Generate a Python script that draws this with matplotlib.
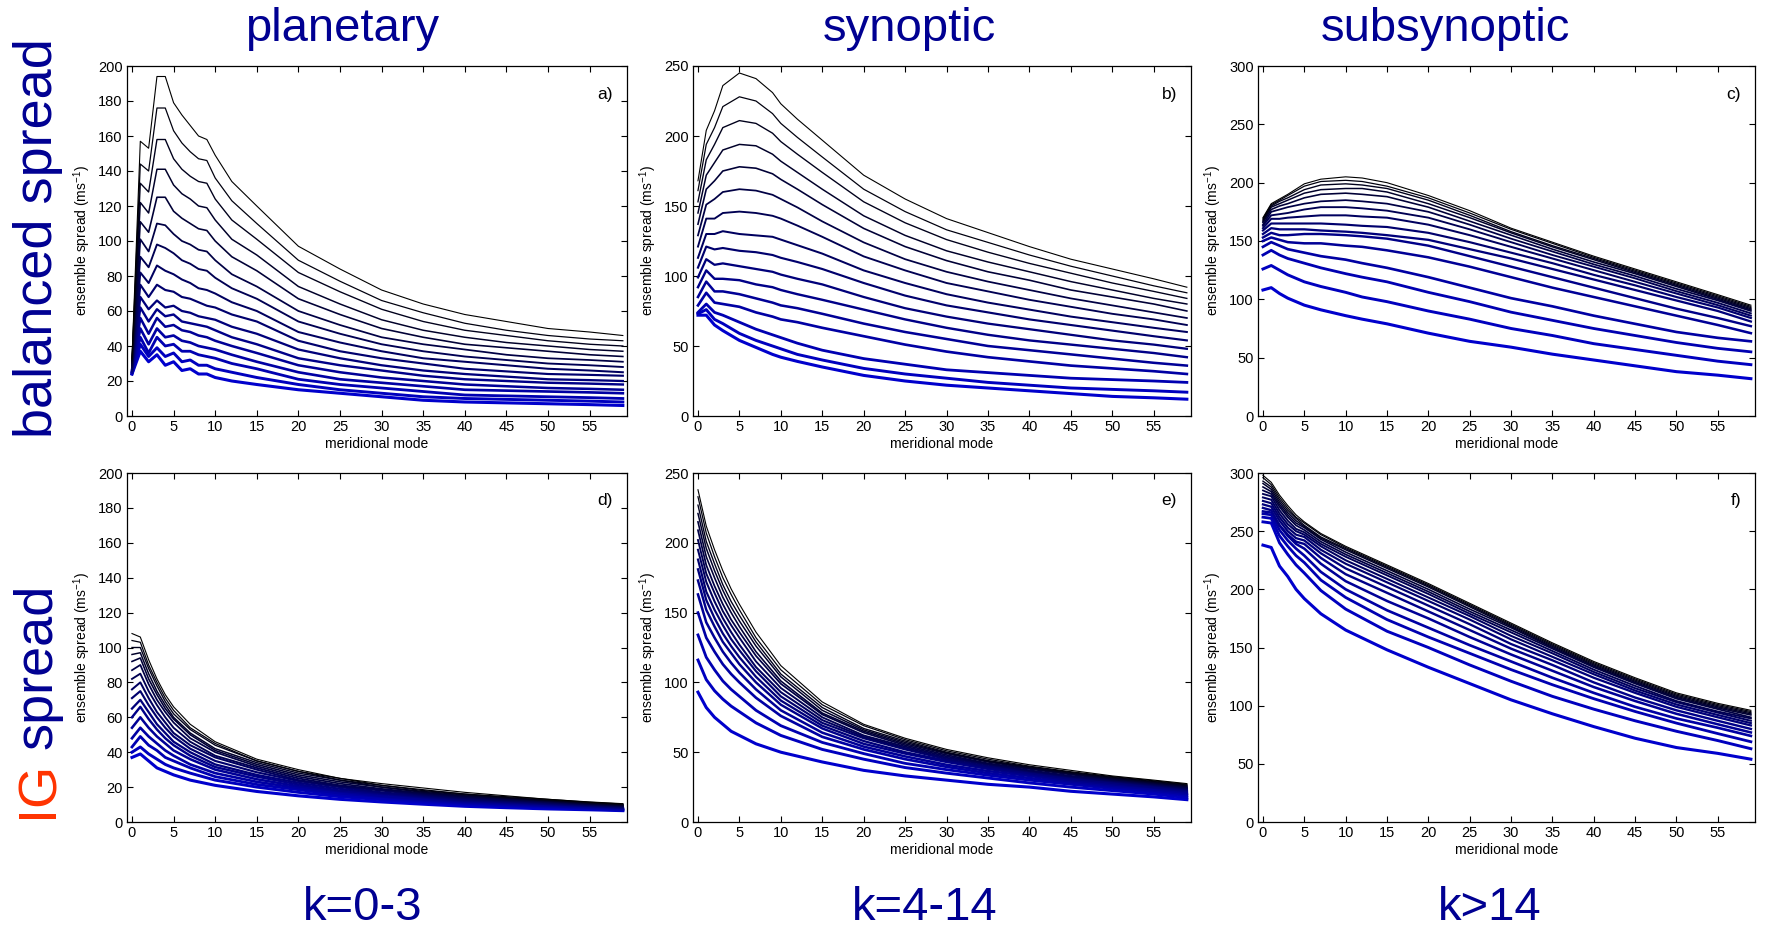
import matplotlib.pyplot as plt

plt.rcParams['font.family'] = ['Liberation Sans', 'DejaVu Sans']
plt.rcParams['mathtext.default'] = 'regular'

# ---- spread curves, one row per lead time (last lead time first) ----
# a) balanced, planetary
MODES_A = [0, 1, 2, 3, 4, 5, 6, 7, 8, 9, 10, 12, 15, 20, 25, 30, 35, 40, 45, 50, 55, 59]
SPREAD_A = [
    [33, 157, 153, 194, 194, 179, 172, 166, 160, 158, 149, 134, 120, 97, 84, 72, 64, 58, 54, 50, 48, 46],
    [32, 144, 140, 176, 176, 163, 156, 151, 147, 146, 136, 123, 110, 89, 77, 66, 59, 53, 49, 46, 44, 43],
    [31, 133, 128, 158, 158, 147, 141, 137, 134, 133, 124, 112, 101, 82, 71, 61, 54, 49, 46, 43, 41, 40],
    [30, 122, 116, 141, 141, 132, 127, 124, 120, 119, 112, 101, 92, 74, 64, 55, 49, 45, 42, 40, 38, 37],
    [29, 111, 105, 125, 125, 117, 113, 110, 107, 106, 100, 91, 83, 67, 58, 50, 45, 41, 39, 37, 35, 34],
    [28, 101, 94, 110, 109, 104, 100, 98, 95, 94, 89, 81, 74, 60, 52, 45, 41, 38, 35, 33, 32, 31],
    [28, 91, 85, 98, 96, 93, 89, 87, 84, 83, 79, 73, 67, 54, 47, 41, 37, 34, 32, 30, 29, 28],
    [27, 82, 76, 86, 83, 81, 78, 76, 73, 72, 70, 65, 60, 48, 42, 37, 33, 31, 29, 27, 26, 25],
    [27, 75, 68, 75, 72, 71, 68, 67, 65, 63, 62, 58, 54, 43, 37, 33, 30, 27, 25.5, 24, 23.5, 23],
    [26, 68, 61, 66, 62, 63, 60, 59, 57, 56, 55, 51, 47, 38, 33, 29, 26, 24, 22.5, 21, 20.5, 20],
    [26, 62, 54, 61, 57, 58, 54, 53, 52, 51, 49, 45, 41, 33, 29, 26, 23, 21, 20, 19, 18.5, 18],
    [25, 56, 47, 56, 51, 52, 49, 48, 46, 45, 43, 40, 36, 29, 25, 22, 20, 18, 17, 16, 15.5, 15],
    [25, 50, 41, 50, 45, 46, 43, 42, 40, 39, 38, 35, 31, 25, 21, 19, 17, 15, 14.5, 14, 13.5, 13],
    [25, 45, 36, 45, 40, 41, 37, 37, 35, 34, 33, 30, 27, 21, 18, 16, 14, 12, 11.5, 11, 10.5, 10],
    [24, 41, 34, 39, 34, 36, 31, 32, 29, 29, 27, 25, 22, 18, 15, 13, 11, 10, 9.5, 9, 8.5, 8],
    [24, 37, 31, 35, 29, 31, 26, 27, 24, 24, 22, 20, 18, 15, 13, 11, 9, 8, 7.5, 7, 6.5, 6],
]

# b) balanced, synoptic
MODES_B = [0, 1, 2, 3, 5, 7, 9, 10, 12, 15, 20, 25, 30, 35, 40, 45, 50, 55, 59]
SPREAD_B = [
    [168, 204, 218, 236, 245, 241, 231, 223, 212, 197, 172, 155, 141, 131, 121, 112, 105, 98, 92],
    [161, 194, 206, 221, 228, 225, 216, 209, 199, 185, 162, 146, 133, 124, 115, 107, 100, 93, 88],
    [153, 183, 194, 206, 211, 209, 202, 196, 187, 174, 153, 138, 126, 117, 109, 102, 95, 89, 84],
    [145, 172, 181, 190, 194, 193, 187, 182, 174, 162, 143, 129, 118, 110, 103, 96, 90, 84, 80],
    [137, 162, 168, 175, 178, 177, 173, 169, 162, 151, 134, 121, 111, 103, 97, 90, 85, 80, 75],
    [129, 151, 155, 160, 162, 161, 158, 155, 149, 139, 124, 112, 103, 96, 90, 84, 79, 74, 70],
    [121, 141, 141, 145, 146, 145, 143, 141, 136, 128, 114, 104, 95, 89, 83, 78, 73, 69, 65],
    [113, 130, 130, 132, 130, 129, 128, 126, 122, 116, 104, 95, 87, 81, 76, 71, 67, 63, 60],
    [106, 121, 119, 120, 118, 117, 115, 113, 110, 105, 95, 86, 79, 74, 69, 65, 61, 57, 54],
    [99, 112, 108, 109, 107, 105, 103, 101, 98, 94, 85, 77, 71, 66, 62, 58, 54, 51, 48],
    [92, 104, 98, 98, 97, 94, 92, 90, 87, 83, 76, 69, 63, 58, 54, 51, 48, 45, 42],
    [85, 96, 89, 89, 87, 84, 81, 79, 77, 73, 66, 60, 55, 50, 47, 44, 41, 38, 36],
    [79, 88, 81, 80, 78, 74, 71, 69, 67, 63, 57, 51, 46, 42, 39, 36, 34, 32, 30],
    [74, 80, 74, 72, 67, 62, 58, 56, 52, 47, 41, 37, 33, 31, 29, 27, 26, 25, 24],
    [73, 76, 69, 66, 59, 54, 50, 48, 44, 40, 34, 30, 27, 24, 22, 20, 19, 18, 17],
    [72, 72, 65, 61, 54, 49, 44, 42, 39, 35, 29, 25, 22, 20, 18, 16, 14, 13, 12],
]

# c) balanced, subsynoptic
MODES_C = [0, 1, 2, 3, 5, 7, 10, 12, 15, 20, 25, 30, 35, 40, 45, 50, 55, 59]
SPREAD_C = [
    [170, 182, 186, 190, 199, 203, 205, 204, 200, 189, 176, 161, 149, 137, 126, 115, 104, 95],
    [169, 181, 185, 189, 197, 201, 202, 201, 197, 187, 174, 160, 148, 136, 125, 114, 103, 94],
    [168, 180, 184, 187, 194, 198, 199, 198, 195, 185, 172, 158, 146, 135, 124, 113, 102, 93],
    [167, 179, 182, 185, 191, 194, 195, 195, 192, 182, 170, 157, 145, 134, 123, 112, 101, 92],
    [166, 177, 180, 182, 187, 190, 191, 190, 188, 179, 167, 155, 143, 132, 122, 111, 100, 91],
    [164, 175, 177, 179, 182, 184, 185, 184, 182, 175, 164, 152, 141, 130, 120, 109, 99, 90],
    [163, 172, 173, 174, 177, 179, 179, 178, 176, 170, 160, 149, 138, 128, 118, 107, 97, 88],
    [161, 169, 169, 170, 171, 172, 172, 171, 170, 164, 155, 145, 135, 125, 115, 105, 95, 86],
    [159, 165, 165, 165, 165, 165, 164, 163, 162, 157, 149, 140, 131, 121, 112, 102, 93, 84],
    [156, 161, 160, 160, 160, 159, 158, 157, 155, 151, 143, 135, 126, 117, 108, 99, 90, 81],
    [153, 157, 155, 155, 156, 156, 155, 154, 152, 146, 137, 128, 119, 110, 101, 92, 84, 77],
    [150, 153, 151, 149, 148, 148, 146, 145, 142, 136, 128, 119, 110, 102, 94, 86, 78, 71],
    [145, 149, 146, 143, 140, 137, 134, 131, 127, 119, 110, 101, 94, 86, 79, 72, 67, 64],
    [138, 142, 138, 135, 131, 127, 122, 119, 115, 106, 98, 89, 82, 75, 69, 63, 58, 55],
    [126, 129, 125, 121, 115, 111, 106, 102, 98, 90, 83, 75, 69, 62, 57, 52, 47, 44],
    [108, 110, 105, 101, 95, 91, 86, 83, 79, 71, 64, 59, 53, 48, 43, 38, 35, 32],
]

# d) IG, planetary
MODES_D = [0, 1, 2, 3, 4, 5, 7, 10, 15, 20, 25, 30, 35, 40, 45, 50, 55, 59]
SPREAD_D = [
    [108, 106, 93, 82, 73, 66, 56, 46, 36, 30, 25, 22, 19.5, 17, 15, 13, 11.5, 10.5],
    [104, 103, 90, 80, 71, 64, 54, 45, 35, 29, 25, 21, 18.5, 16, 14.5, 13, 11.3, 10.3],
    [100, 100, 88, 78, 69, 62, 53, 44, 35, 29, 24, 21, 18, 16, 14, 12.5, 11, 10],
    [96, 97, 85, 75, 67, 60, 51, 42, 34, 28, 24, 20, 17.5, 15.5, 13.8, 12.3, 10.8, 9.8],
    [92, 94, 82, 73, 65, 59, 50, 41, 33, 27, 23, 20, 17, 15, 13.5, 12, 10.5, 9.5],
    [87, 90, 79, 70, 63, 57, 48, 40, 32, 26, 22, 19, 16.5, 14.5, 13, 11.7, 10.3, 9.3],
    [82, 85, 75, 67, 60, 54, 46, 38, 31, 25, 21, 18.5, 16, 14, 12.6, 11.3, 10, 9],
    [76, 80, 71, 63, 57, 51, 44, 37, 30, 24, 20.5, 18, 15.5, 13.5, 12.2, 11, 9.8, 8.8],
    [71, 75, 67, 60, 54, 49, 42, 35, 28.5, 23.5, 20, 17, 15, 13, 11.8, 10.6, 9.5, 8.5],
    [65, 70, 63, 56, 51, 46, 40, 33, 27, 22.5, 19, 16.5, 14.5, 12.5, 11.4, 10.3, 9.2, 8.2],
    [60, 66, 59, 53, 48, 44, 38, 31.5, 26, 21.5, 18, 16, 14, 12, 11, 10, 9, 8],
    [54, 60, 54, 49, 45, 41, 36, 30, 24.5, 20.5, 17.5, 15, 13.2, 11.5, 10.5, 9.5, 8.6, 7.7],
    [48, 54, 49, 45, 41, 38, 33, 28, 23, 19.5, 16.5, 14.5, 12.6, 11, 10, 9.2, 8.2, 7.4],
    [43, 49, 44, 41, 37, 35, 31, 26, 21.5, 18.5, 15.5, 13.5, 12, 10.5, 9.6, 8.8, 7.9, 7.1],
    [40, 43, 39, 36, 33, 31, 28, 24, 20, 17, 14.5, 12.8, 11.3, 10, 9.1, 8.3, 7.5, 6.8],
    [37, 39, 35, 31, 29, 27, 24, 21, 17.5, 15, 13, 11.5, 10.2, 9, 8.2, 7.5, 7, 6.5],
]

# e) IG, synoptic
MODES_E = [0, 1, 2, 3, 4, 5, 7, 10, 15, 20, 25, 30, 35, 40, 45, 50, 55, 59]
SPREAD_E = [
    [238, 212, 195, 180, 167, 156, 136, 112, 86, 70, 60, 52, 46, 41, 37, 33, 30, 27.5],
    [233, 207, 190, 175, 163, 152, 132, 109, 84, 69, 59, 51, 45, 40, 36, 32.5, 29.5, 27],
    [227, 201, 185, 170, 158, 148, 129, 106, 82, 67, 58, 50, 44, 39.5, 35.5, 32, 29, 26.5],
    [221, 196, 180, 166, 154, 144, 126, 104, 80, 66, 57, 49.5, 43.5, 39, 35, 31.5, 28.5, 26],
    [215, 190, 175, 161, 150, 140, 122, 101, 78, 65, 56, 49, 43, 38.5, 34.5, 31, 28, 25.5],
    [209, 184, 169, 156, 145, 136, 119, 99, 77, 64, 55, 48, 42, 38, 34, 30.5, 27.5, 25],
    [202, 178, 164, 151, 141, 132, 115, 96, 75, 62, 54, 47, 41.5, 37, 33, 30, 27, 24.5],
    [195, 172, 158, 146, 136, 127, 111, 93, 73, 61, 53, 46, 41, 36.5, 32.5, 29.5, 26.5, 24],
    [188, 165, 152, 141, 131, 123, 108, 90, 71, 60, 52, 45, 40, 36, 32, 29, 26, 23.5],
    [181, 159, 146, 135, 126, 118, 104, 87, 69, 58, 50, 44, 39, 35, 31, 28, 25, 23],
    [173, 152, 140, 129, 121, 113, 100, 84, 67, 56, 49, 43, 38, 34, 30, 27, 24.5, 22],
    [163, 143, 132, 122, 114, 107, 95, 80, 64, 54, 47, 41, 36.5, 33, 29, 26, 23.5, 21],
    [150, 132, 122, 113, 106, 100, 89, 76, 61, 52, 45, 39.5, 35, 31.5, 28, 25, 22.5, 20],
    [134, 118, 109, 101, 95, 90, 80, 69, 57, 49, 42, 37.5, 33.5, 30, 27, 24, 21.5, 19],
    [116, 102, 94, 88, 83, 79, 71, 62, 52, 45, 39, 35, 31.5, 28, 25, 22.5, 20, 17.5],
    [93, 82, 75, 70, 65, 62, 56, 50, 43, 37, 33, 30, 27, 25, 22, 20, 18, 16],
]

# f) IG, subsynoptic
MODES_F = [0, 1, 2, 3, 4, 5, 7, 10, 15, 20, 25, 30, 35, 40, 45, 50, 55, 59]
SPREAD_F = [
    [298, 292, 281, 272, 264, 258, 248, 237, 221, 205, 188, 171, 154, 138, 124, 111, 102, 96],
    [296, 290, 279, 270, 262, 257, 247, 236, 220, 204, 187, 170, 153, 137, 123, 110, 101, 95],
    [293, 288, 277, 268, 261, 255, 245, 235, 219, 203, 186, 169, 152, 136, 122, 109, 100, 94],
    [291, 286, 275, 266, 259, 254, 244, 234, 218, 202, 185, 168, 151, 135, 121, 108, 99, 93],
    [288, 284, 273, 264, 257, 253, 243, 232, 216, 200, 183, 167, 150, 134, 120, 107, 98, 92],
    [285, 282, 271, 262, 255, 251, 241, 230, 214, 198, 181, 165, 149, 133, 119, 106, 97, 90],
    [282, 280, 268, 259, 252, 249, 239, 228, 212, 196, 179, 163, 147, 131, 117, 104, 95, 89],
    [279, 277, 265, 256, 250, 247, 237, 225, 209, 193, 177, 160, 145, 129, 115, 103, 94, 87],
    [276, 274, 262, 253, 247, 245, 234, 222, 206, 190, 174, 157, 142, 127, 113, 101, 92, 85],
    [273, 271, 259, 250, 244, 242, 231, 218, 202, 186, 170, 153, 139, 124, 111, 99, 90, 83],
    [270, 268, 255, 247, 241, 239, 227, 213, 197, 181, 165, 149, 135, 120, 107, 96, 87, 80],
    [267, 266, 255, 246, 239, 235, 222, 207, 190, 175, 159, 144, 130, 116, 104, 93, 84, 77],
    [265, 264, 251, 242, 235, 229, 215, 200, 182, 167, 152, 138, 124, 111, 99, 89, 81, 74],
    [262, 261, 246, 237, 229, 223, 208, 193, 174, 159, 145, 131, 118, 106, 95, 85, 76, 69],
    [258, 257, 240, 230, 221, 214, 199, 183, 164, 150, 135, 121, 108, 97, 87, 78, 70, 63],
    [238, 236, 220, 211, 200, 192, 179, 165, 148, 133, 119, 105, 93, 82, 72, 64, 59, 54],
]

COL_TITLES = ['planetary', 'synoptic', 'subsynoptic']
K_LABELS = ['k=0-3', 'k=4-14', 'k>14']
PANEL_TAGS = ['a)', 'b)', 'c)', 'd)', 'e)', 'f)']
Y_MAX = [200, 250, 300]
Y_STEP = [20, 50, 50]

NAVY = '#000092'
RED = '#ff3300'

W, H = 1770, 930
fig = plt.figure(figsize=(W / 100, H / 100), dpi=100)

# axes boxes in pixels
col_px = [(127, 627), (693, 1191), (1258, 1755)]
row_px = [(66, 416), (473, 822)]

panels = [(MODES_A, SPREAD_A), (MODES_B, SPREAD_B), (MODES_C, SPREAD_C),
          (MODES_D, SPREAD_D), (MODES_E, SPREAD_E), (MODES_F, SPREAD_F)]

for idx, (modes, curves) in enumerate(panels):
    r, c = divmod(idx, 3)
    x0, x1 = col_px[c]
    y0, y1 = row_px[r]
    ax = fig.add_axes([x0 / W, 1 - y1 / H, (x1 - x0) / W, (y1 - y0) / H])

    n = len(curves)
    # earliest lead time is blue and thick, latest is black and thin
    for i, vals in enumerate(reversed(curves)):
        f = i / (n - 1)
        ax.plot(modes, vals, color=(0, 0, 0.8 * (1 - f)), lw=2.2 - 1.4 * f,
                solid_joinstyle='round')

    ax.set_xlim(-0.6, 59.5)
    ax.set_ylim(0, Y_MAX[c])
    ax.set_xticks(range(0, 60, 5))
    ax.set_yticks(range(0, Y_MAX[c] + 1, Y_STEP[c]))
    ax.tick_params(direction='in', top=True, right=True, length=4, width=0.8,
                   labelsize=10.5, pad=3)
    for s in ax.spines.values():
        s.set_linewidth(0.9)
    ax.set_xlabel('meridional mode', fontsize=10, labelpad=2)
    ax.set_ylabel('ensemble spread (ms$^{-1}$)', fontsize=10, labelpad=4)
    ax.text(0.972, 0.92, PANEL_TAGS[idx], transform=ax.transAxes,
            ha='right', va='center', fontsize=12.5)

# column titles and wavenumber ranges
for c in range(3):
    cx = [342, 909, 1445][c]
    fig.text(cx / W, 1 - 41 / H, COL_TITLES[c], color=NAVY, fontsize=34,
             ha='center', va='baseline')
    kx = [363, 925, 1490][c]
    fig.text(kx / W, 1 - 920 / H, K_LABELS[c], color=NAVY, fontsize=34,
             ha='center', va='baseline')

# row titles, rotated
fig.text(52 / W, 1 - 238 / H, 'balanced spread', color=NAVY, fontsize=39,
         rotation=90, rotation_mode='anchor', ha='center', va='baseline')

ig = fig.text(52 / W, 1 - 818 / H, 'IG', color=RED, fontsize=39,
              rotation=90, rotation_mode='anchor', ha='left', va='baseline')
renderer = fig.canvas.get_renderer()
bb = ig.get_window_extent(renderer)
fig.text(52 / W, (bb.y1 + 12) / H, 'spread', color=NAVY, fontsize=39,
         rotation=90, rotation_mode='anchor', ha='left', va='baseline')

fig.savefig('out.png', dpi=100)
